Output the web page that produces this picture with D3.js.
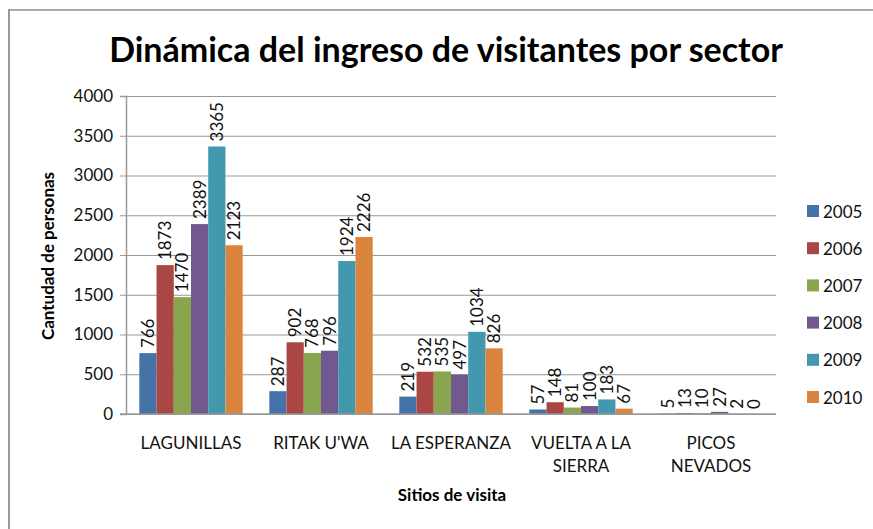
<!DOCTYPE html>
<html>
<head>
<meta charset="utf-8">
<script src="https://cdn.jsdelivr.net/npm/d3@7"></script>
<style>
  body { margin: 0; background: #fff; }
  svg { font-family: Lato, "Open Sans", sans-serif; }
</style>
</head>
<body>
<svg id="chart"></svg>
<script>
const sectors = ["LAGUNILLAS", "RITAK U'WA", "LA ESPERANZA", "VUELTA A LA SIERRA", "PICOS NEVADOS"];
const sectorLines = [["LAGUNILLAS"], ["RITAK U'WA"], ["LA ESPERANZA"], ["VUELTA A LA", "SIERRA"], ["PICOS", "NEVADOS"]];
const years = ["2005", "2006", "2007", "2008", "2009", "2010"];
const yearColors = ["#4572a7", "#aa4643", "#89a54e", "#71588f", "#4198af", "#db843d"];
const values = {
    "2005": [766, 287, 219, 57, 5],
    "2006": [1873, 902, 532, 148, 13],
    "2007": [1470, 768, 535, 81, 10],
    "2008": [2389, 796, 497, 100, 27],
    "2009": [3365, 1924, 1034, 183, 2],
    "2010": [2123, 2226, 826, 67, 0]
};
const yTicks = [0, 500, 1000, 1500, 2000, 2500, 3000, 3500, 4000];

const W = 873, H = 529;
const margin = { top: 96, right: 97, bottom: 115, left: 126 };
const width = W - margin.left - margin.right,
    height = H - margin.top - margin.bottom;

const svg = d3.select("#chart").attr("width", W).attr("height", H);

// outer frame (only top and left visible in the crop)
svg.append("line").attr("x1", 9).attr("x2", W).attr("y1", 10).attr("y2", 10)
    .attr("stroke", "#aaa").attr("stroke-width", 2);
svg.append("line").attr("x1", 9).attr("x2", 9).attr("y1", 9).attr("y2", H)
    .attr("stroke", "#999").attr("stroke-width", 2);

svg.append("text")
    .attr("x", 446).attr("y", 62)
    .attr("text-anchor", "middle")
    .style("font-size", "34px").style("font-weight", "bold")
    .text("Dinámica del ingreso de visitantes por sector");

const g = svg.append("g").attr("transform", `translate(${margin.left},${margin.top})`);

const x0 = d3.scaleBand().domain(sectors).range([0, width]).paddingInner(0.205).paddingOuter(0.1025);
const x1 = d3.scaleBand().domain(years).range([0, x0.bandwidth()]);
const y = d3.scaleLinear().domain([0, 4000]).range([height, 0]);

// gridlines
g.append("g")
    .call(d3.axisLeft(y).tickValues(yTicks).tickSize(-width).tickFormat(""))
    .call(a => a.select(".domain").remove())
    .call(a => a.selectAll("line").attr("stroke", "#999").attr("stroke-width", 1.2));

// y axis
g.append("g")
    .call(d3.axisLeft(y).tickValues(yTicks).tickSize(6).tickPadding(7).tickFormat(d3.format("d")))
    .call(a => a.select(".domain").attr("stroke", "#999").attr("stroke-width", 1.5))
    .call(a => a.selectAll("line").attr("stroke", "#999"))
    .call(a => a.selectAll("text").style("font-size", "17px").attr("fill", "#111").style("font-family", "Lato"));

// bars
const groups = g.selectAll(".sector")
    .data(sectors)
    .join("g")
    .attr("class", "sector")
    .attr("transform", d => `translate(${x0(d)},0)`);

groups.selectAll("rect")
    .data((s, i) => years.map((yr, k) => ({ yr, k, v: values[yr][i] })))
    .join("rect")
    .attr("x", d => x1(d.yr))
    .attr("y", d => y(d.v))
    .attr("width", x1.bandwidth())
    .attr("height", d => height - y(d.v))
    .attr("fill", d => yearColors[d.k]);

groups.selectAll(".val")
    .data((s, i) => years.map((yr, k) => ({ yr, k, v: values[yr][i] })))
    .join("text")
    .attr("class", "val")
    .attr("transform", d => `translate(${x1(d.yr) + x1.bandwidth() / 2 + 6},${y(d.v) - 5}) rotate(-90)`)
    .style("font-size", "17px")
    .attr("fill", "#111")
    .text(d => d.v);

// baseline
g.append("line").attr("x1", -6).attr("x2", width).attr("y1", height).attr("y2", height)
    .attr("stroke", "#999").attr("stroke-width", 1.5);

// category labels
sectors.forEach((s, i) => {
    const cx = x0(s) + x0.bandwidth() / 2;
    const t = g.append("text")
        .attr("x", cx)
        .attr("y", height + 35)
        .attr("text-anchor", "middle")
        .style("font-size", "17px")
        .attr("fill", "#111");
    sectorLines[i].forEach((ln, j) => {
        t.append("tspan").attr("x", cx).attr("dy", j ? 23 : 0).text(ln);
    });
});

// axis titles
svg.append("text")
    .attr("x", 452).attr("y", 501)
    .attr("text-anchor", "middle")
    .style("font-size", "17px").style("font-weight", "bold")
    .text("Sitios de visita");

svg.append("text")
    .attr("transform", "translate(54,256) rotate(-90)")
    .attr("text-anchor", "middle")
    .style("font-size", "17px").style("font-weight", "bold")
    .text("Cantudad de personas");

// legend
const legend = svg.append("g").attr("transform", "translate(807,211)");
years.forEach((yr, k) => {
    const row = legend.append("g").attr("transform", `translate(0,${k * 37.2})`);
    row.append("rect").attr("x", 0).attr("y", -6).attr("width", 12).attr("height", 12).attr("fill", yearColors[k]);
    row.append("text").attr("x", 16).attr("y", 6.5).style("font-size", "17px").attr("fill", "#111").text(yr);
});
</script>
</body>
</html>
